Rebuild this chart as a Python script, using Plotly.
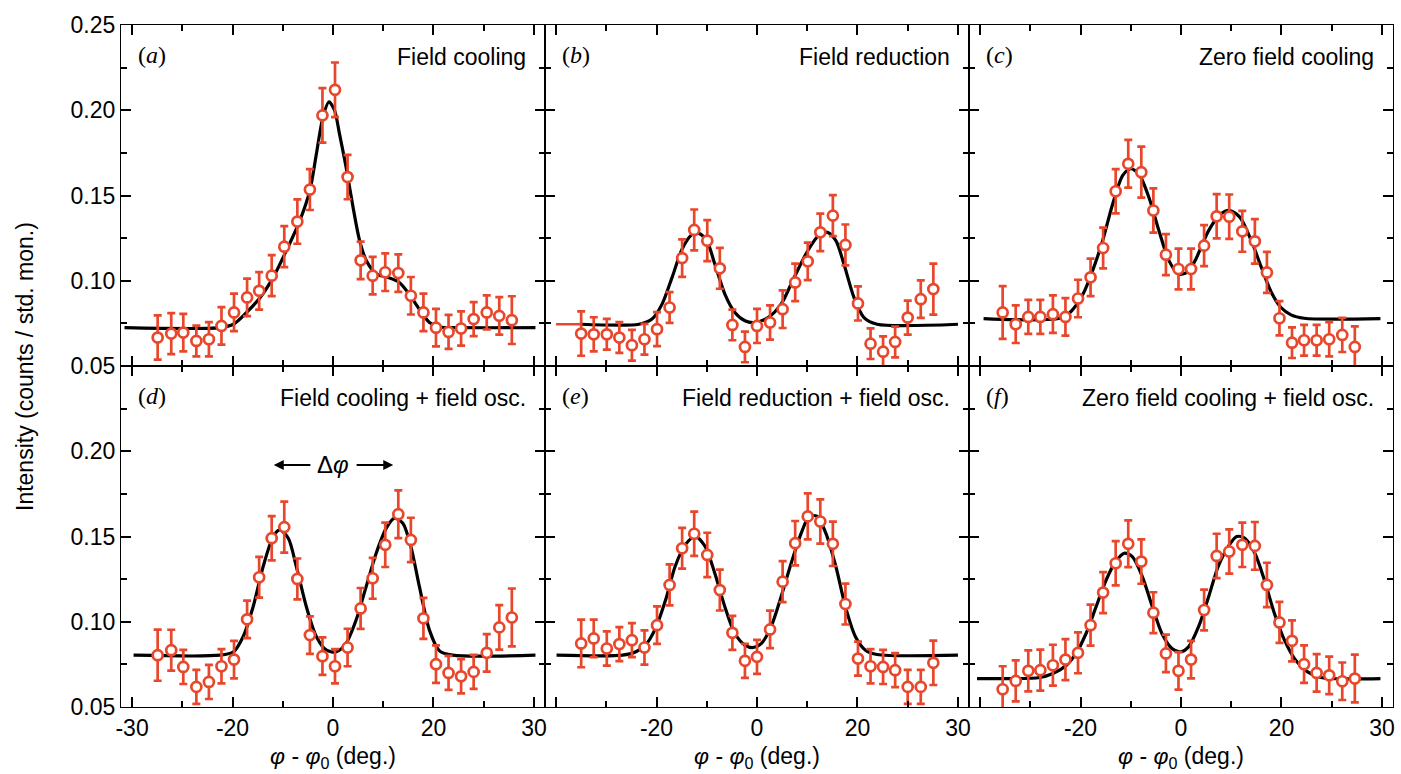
import plotly.graph_objects as go
from plotly.subplots import make_subplots

# measured points (x in deg, intensity, error)
x_ad = [-34.9, -32.2, -29.8, -27.2, -24.7, -22.2, -19.7, -17.1, -14.7, -12.2, -9.7, -7.1, -4.6, -2.1, 0.4,
        2.9, 5.5, 7.9, 10.4, 13.0, 15.5, 18.0, 20.5, 23.0, 25.5, 28.0, 30.6, 33.1, 35.6]
x_be = [-35.0, -32.5, -29.9, -27.4, -24.9, -22.4, -19.9, -17.4, -14.9, -12.5, -9.9, -7.4, -4.9, -2.4, 0.0,
        2.6, 5.1, 7.6, 10.1, 12.6, 15.1, 17.6, 20.1, 22.6, 25.1, 27.5, 30.0, 32.6, 35.1]
x_cf = [-35.5, -32.9, -30.4, -28.0, -25.5, -23.0, -20.5, -18.0, -15.5, -13.0, -10.5, -7.9, -5.5, -3.0, -0.5,
        2.0, 4.6, 7.1, 9.6, 12.2, 14.7, 17.1, 19.6, 22.1, 24.5, 27.0, 29.5, 32.1, 34.6]

y_a = [0.0667, 0.0690, 0.0696, 0.0647, 0.0657, 0.0735, 0.0814, 0.0902, 0.0941, 0.1030, 0.1200, 0.1347,
       0.1535, 0.1970, 0.2120, 0.1608, 0.1120, 0.1030, 0.1050, 0.1045, 0.0912, 0.0814, 0.0725, 0.0700,
       0.0720, 0.0775, 0.0814, 0.0794, 0.0769]
e_a = [0.013, 0.012, 0.011, 0.009, 0.010, 0.011, 0.011, 0.011, 0.011, 0.012, 0.012, 0.013, 0.012, 0.016,
       0.016, 0.013, 0.011, 0.011, 0.011, 0.011, 0.011, 0.011, 0.011, 0.010, 0.010, 0.010, 0.010, 0.011, 0.014]

y_b = [0.0690, 0.0686, 0.0686, 0.0667, 0.0622, 0.0657, 0.0716, 0.0843, 0.1133, 0.1298, 0.1235, 0.1073,
       0.0741, 0.0612, 0.0735, 0.0755, 0.0833, 0.0990, 0.1114, 0.1284, 0.1382, 0.1210, 0.0867, 0.0631,
       0.0584, 0.0641, 0.0784, 0.0892, 0.0951]
e_b = [0.013, 0.010, 0.009, 0.009, 0.009, 0.009, 0.010, 0.009, 0.011, 0.012, 0.012, 0.012, 0.009, 0.009,
       0.010, 0.010, 0.011, 0.011, 0.011, 0.011, 0.012, 0.012, 0.010, 0.009, 0.009, 0.009, 0.010, 0.011, 0.015]

y_c = [0.0814, 0.0745, 0.0788, 0.0788, 0.0804, 0.0788, 0.0896, 0.1020, 0.1192, 0.1525, 0.1686, 0.1637,
       0.1412, 0.1153, 0.1069, 0.1069, 0.1206, 0.1378, 0.1376, 0.1290, 0.1231, 0.1049, 0.0780, 0.0637,
       0.0651, 0.0651, 0.0657, 0.0682, 0.0612]
e_c = [0.0155, 0.011, 0.010, 0.010, 0.011, 0.011, 0.011, 0.011, 0.012, 0.013, 0.014, 0.015, 0.013, 0.012,
       0.012, 0.012, 0.012, 0.013, 0.013, 0.012, 0.013, 0.012, 0.010, 0.009, 0.009, 0.009, 0.010, 0.010, 0.012]

y_d = [0.0804, 0.0833, 0.0735, 0.0618, 0.0647, 0.0739, 0.0778, 0.1014, 0.1261, 0.1490, 0.1555, 0.1251,
       0.0922, 0.0798, 0.0739, 0.0849, 0.1078, 0.1255, 0.1451, 0.1631, 0.1480, 0.1020, 0.0751, 0.0700,
       0.0680, 0.0706, 0.0818, 0.0967, 0.1025]
e_d = [0.015, 0.012, 0.010, 0.010, 0.010, 0.010, 0.011, 0.011, 0.012, 0.013, 0.015, 0.012, 0.011, 0.011,
       0.010, 0.011, 0.012, 0.012, 0.013, 0.014, 0.013, 0.012, 0.011, 0.010, 0.010, 0.010, 0.011, 0.013, 0.017]

y_e = [0.0873, 0.0902, 0.0843, 0.0869, 0.0892, 0.0849, 0.0980, 0.1216, 0.1431, 0.1516, 0.1392, 0.1186,
       0.0935, 0.0771, 0.0794, 0.0955, 0.1235, 0.1461, 0.1618, 0.1588, 0.1457, 0.1104, 0.0784, 0.0739,
       0.0735, 0.0716, 0.0618, 0.0618, 0.0759]
e_e = [0.014, 0.011, 0.010, 0.010, 0.010, 0.010, 0.011, 0.012, 0.012, 0.013, 0.013, 0.012, 0.010, 0.010,
       0.010, 0.011, 0.012, 0.013, 0.0135, 0.013, 0.013, 0.012, 0.010, 0.010, 0.010, 0.010, 0.010, 0.010, 0.013]

y_f = [0.0604, 0.0653, 0.0712, 0.0716, 0.0745, 0.0778, 0.0818, 0.0980, 0.1171, 0.1343, 0.1457, 0.1353,
       0.1053, 0.0814, 0.0712, 0.0778, 0.1069, 0.1386, 0.1412, 0.1451, 0.1445, 0.1216, 0.0996, 0.0888,
       0.0751, 0.0700, 0.0686, 0.0651, 0.0667]
e_f = [0.0135, 0.012, 0.012, 0.012, 0.012, 0.012, 0.012, 0.012, 0.012, 0.013, 0.0137, 0.013, 0.012, 0.011,
       0.011, 0.011, 0.012, 0.013, 0.013, 0.013, 0.014, 0.013, 0.012, 0.012, 0.011, 0.011, 0.011, 0.011, 0.014]

# fit curves
fx_a = [-41.5, -22.5, -19.8, -17.2, -14.5, -11.9, -9.3, -6.6, -4.6, -3.3, -2.0, -0.8, 0.3, 1.3, 2.6, 4.0,
        5.3, 6.6, 8.6, 10.9, 13.2, 15.2, 17.2, 19.2, 21.2, 25.1, 40.3]
fy_a = [0.0725, 0.0725, 0.0745, 0.0814, 0.0902, 0.1020, 0.1176, 0.1353, 0.1530, 0.1745, 0.1960, 0.2050,
        0.2000, 0.1860, 0.1667, 0.1430, 0.1235, 0.1120, 0.1040, 0.1020, 0.0990, 0.0920, 0.0833, 0.0755,
        0.0729, 0.0725, 0.0725]

fx_b = [-35.0, -23.5, -20.9, -18.9, -16.9, -14.9, -13.0, -11.6, -10.0, -8.4, -6.4, -4.4, -2.4, -0.5, 2.2,
        4.8, 7.4, 10.1, 12.4, 14.0, 15.7, 17.3, 19.3, 21.3, 23.9, 40.0]
fy_b = [0.0745, 0.0745, 0.0775, 0.0863, 0.1020, 0.1186, 0.1270, 0.1278, 0.1235, 0.1098, 0.0922, 0.0814,
        0.0765, 0.0755, 0.0784, 0.0863, 0.1020, 0.1176, 0.1270, 0.1284, 0.1235, 0.1098, 0.0902, 0.0784,
        0.0745, 0.0745]
fx_b_red = [-40.0, -35.0]
fy_b_red = [0.0745, 0.0745]

fx_c = [-39.3, -23.5, -21.5, -19.5, -17.6, -15.6, -13.6, -11.6, -10.0, -8.4, -6.4, -4.4, -2.4, -0.5, 1.2,
        2.8, 5.5, 7.8, 9.7, 11.7, 14.0, 16.0, 18.0, 19.9, 21.9, 24.5, 39.7]
fy_c = [0.0778, 0.0784, 0.0833, 0.0922, 0.1059, 0.1235, 0.1450, 0.1618, 0.1657, 0.1627, 0.1490, 0.1294,
        0.1118, 0.1039, 0.1049, 0.1118, 0.1294, 0.1388, 0.1412, 0.1373, 0.1235, 0.1078, 0.0931, 0.0843,
        0.0800, 0.0780, 0.0778]

fx_d = [-39.7, -22.5, -19.8, -17.9, -15.9, -13.9, -11.9, -10.6, -8.9, -7.3, -5.3, -3.3, -1.3, 0.7, 2.6,
        4.6, 6.6, 8.6, 10.6, 12.2, 13.9, 15.5, 17.2, 19.2, 21.2, 23.8, 40.3]
fy_d = [0.0804, 0.0804, 0.0824, 0.0912, 0.1088, 0.1324, 0.1500, 0.1539, 0.1490, 0.1324, 0.1088, 0.0912,
        0.0833, 0.0824, 0.0873, 0.1010, 0.1206, 0.1402, 0.1549, 0.1608, 0.1578, 0.1441, 0.1206, 0.0951,
        0.0829, 0.0804, 0.0804]

fx_e = [-39.9, -26.8, -24.1, -22.2, -20.2, -18.2, -16.3, -14.3, -12.3, -10.3, -8.4, -6.4, -4.4, -2.4, -0.8,
        0.9, 2.8, 4.8, 6.8, 8.8, 10.4, 12.0, 13.7, 15.7, 17.6, 19.6, 21.6, 23.9, 40.0]
fy_e = [0.0804, 0.0804, 0.0824, 0.0863, 0.0961, 0.1127, 0.1324, 0.1451, 0.1500, 0.1441, 0.1284, 0.1088,
        0.0931, 0.0863, 0.0849, 0.0873, 0.0971, 0.1147, 0.1343, 0.1520, 0.1618, 0.1618, 0.1520, 0.1324,
        0.1088, 0.0912, 0.0833, 0.0808, 0.0804]

fx_f = [-40.6, -28.1, -25.5, -22.8, -20.9, -18.9, -16.9, -14.9, -13.0, -11.3, -9.7, -7.7, -5.7, -3.8, -1.8,
        -0.1, 1.5, 3.5, 5.5, 7.4, 9.4, 11.1, 12.7, 14.7, 16.6, 18.6, 20.6, 22.6, 25.2, 27.8, 39.7]
fy_f = [0.0667, 0.0673, 0.0696, 0.0745, 0.0814, 0.0931, 0.1088, 0.1245, 0.1353, 0.1402, 0.1382, 0.1265,
        0.1088, 0.0931, 0.0843, 0.0824, 0.0853, 0.0971, 0.1147, 0.1324, 0.1441, 0.1500, 0.1490, 0.1402,
        0.1245, 0.1049, 0.0892, 0.0784, 0.0706, 0.0673, 0.0667]

letters = ['a', 'b', 'c', 'd', 'e', 'f']
titles = ['Field cooling', 'Field reduction', 'Zero field cooling',
          'Field cooling + field osc.', 'Field reduction + field osc.', 'Zero field cooling + field osc.']

x_ticks = [-40, -20, 0, 20, 40]
x_ticktext_first = ['-30', '-20', '0', '20', '30']
x_ticktext_other = ['', '-20', '0', '20', '30']
x_minor = [-30, -10, 10, 30]
y_ticks = [0.05, 0.10, 0.15, 0.20, 0.25]
y_minor = [0.075, 0.125, 0.175, 0.225]

RED = '#E8472B'
SANS = 'Liberation Sans, Arial, sans-serif'
SERIF = 'Liberation Serif, Times New Roman, serif'

panels = [
    (x_ad, y_a, e_a, fx_a, fy_a),
    (x_be, y_b, e_b, fx_b, fy_b),
    (x_cf, y_c, e_c, fx_c, fy_c),
    (x_ad, y_d, e_d, fx_d, fy_d),
    (x_be, y_e, e_e, fx_e, fy_e),
    (x_cf, y_f, e_f, fx_f, fy_f),
]

fig = make_subplots(rows=2, cols=3, horizontal_spacing=0, vertical_spacing=0)

for i, (px, py, pe, fx, fy) in enumerate(panels):
    row, col = i // 3 + 1, i % 3 + 1
    if i == 1:
        fig.add_trace(go.Scatter(x=fx_b_red, y=fy_b_red, mode='lines',
                                 line=dict(color=RED, width=2.5), showlegend=False), row=row, col=col)
    fig.add_trace(go.Scatter(x=fx, y=fy, mode='lines', line=dict(color='black', width=3.2, shape='spline', smoothing=0.8),
                             showlegend=False), row=row, col=col)
    fig.add_trace(go.Scatter(
        x=px, y=py, mode='markers',
        marker=dict(symbol='circle', size=10, color='white', line=dict(color=RED, width=2.7)),
        error_y=dict(type='data', array=pe, color=RED, thickness=2.7, width=4),
        showlegend=False), row=row, col=col)

    n = '' if i == 0 else str(i + 1)
    fig.add_annotation(xref=f'x{n} domain', yref=f'y{n} domain', x=0.035, y=0.912,
                       text=f'(<i>{letters[i]}</i>)', showarrow=False, xanchor='left', yanchor='middle',
                       font=dict(family=SERIF, size=24, color='black'))
    fig.add_annotation(xref=f'x{n} domain', yref=f'y{n} domain', x=0.96, y=0.905,
                       text=titles[i], showarrow=False, xanchor='right', yanchor='middle',
                       font=dict(family=SANS, size=23, color='black'))

axis_common = dict(showline=True, linecolor='black', linewidth=1.3, mirror='allticks',
                   ticks='inside', ticklen=10, tickwidth=2, tickcolor='black',
                   showgrid=False, zeroline=False,
                   tickfont=dict(family=SANS, size=23, color='black'))

for i in range(6):
    row, col = i // 3 + 1, i % 3 + 1
    fig.update_xaxes(axis_common, range=[-42.2, 42.2], tickvals=x_ticks,
                     ticktext=x_ticktext_first if col == 1 else x_ticktext_other,
                     showticklabels=(row == 2),
                     minor=dict(tickvals=x_minor, ticks='inside', ticklen=6, tickwidth=2, tickcolor='black'),
                     row=row, col=col)
    fig.update_yaxes(axis_common, range=[0.05, 0.25],
                     tickvals=y_ticks if row == 1 else y_ticks[:-1], tickformat='.2f',
                     showticklabels=(col == 1),
                     minor=dict(tickvals=y_minor, ticks='inside', ticklen=6, tickwidth=2, tickcolor='black'),
                     row=row, col=col)
    if row == 2:
        fig.update_xaxes(title=dict(text='<i>φ</i> - <i>φ</i><sub>0</sub> (deg.)', standoff=8,
                                    font=dict(family=SANS, size=23, color='black')), row=row, col=col)

# delta-phi marker in panel (d)
fig.add_annotation(xref='x4', yref='y4', x=0, y=0.192, text='Δ<i>φ</i>', showarrow=False,
                   font=dict(family=SANS, size=24, color='black'))
fig.add_annotation(xref='x4', yref='y4', x=-11.8, y=0.192, ax=-4.2, ay=0.192, axref='x4', ayref='y4',
                   showarrow=True, arrowhead=2, arrowsize=1, arrowwidth=2, arrowcolor='black', text='')
fig.add_annotation(xref='x4', yref='y4', x=12.0, y=0.192, ax=4.4, ay=0.192, axref='x4', ayref='y4',
                   showarrow=True, arrowhead=2, arrowsize=1, arrowwidth=2, arrowcolor='black', text='')

fig.add_annotation(xref='paper', yref='paper', x=-0.076, y=0.499, text='Intensity (counts / std. mon.)',
                   textangle=-90, showarrow=False, xanchor='center', yanchor='middle',
                   font=dict(family=SANS, size=23, color='black'))

fig.update_layout(width=1401, height=774, margin=dict(l=121, r=6, t=25, b=67),
                  plot_bgcolor='white', paper_bgcolor='white')

fig.write_html('out.html', config={'displayModeBar': False},
               post_script="document.body.style.margin='0';document.body.style.overflow='hidden';")
